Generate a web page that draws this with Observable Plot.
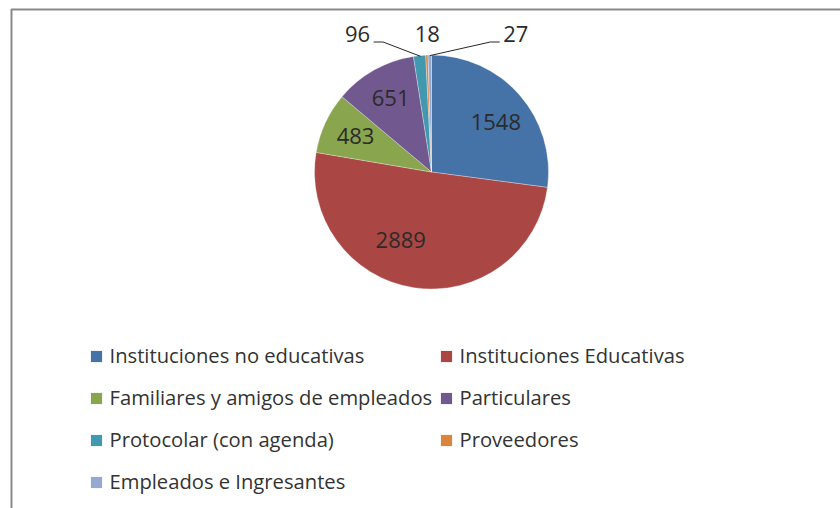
<!DOCTYPE html>
<html><head><meta charset="utf-8">
<script src="https://cdn.jsdelivr.net/npm/d3@7"></script>
<script src="https://cdn.jsdelivr.net/npm/@observablehq/plot@0.6"></script>
<style>body{margin:0;background:#fff;} svg{display:block;}</style>
</head><body><div id="chart"></div>
<script>
const categories = ["Instituciones no educativas","Instituciones Educativas","Familiares y amigos de empleados","Particulares","Protocolar (con agenda)","Proveedores","Empleados e Ingresantes"];
const values = [1548, 2889, 483, 651, 96, 18, 27];
const colors = ["#4572A7","#AA4643","#89A54E","#71588F","#4198AF","#DB843D","#93A9CF"];

const W = 840, H = 508;
const cx = 431.5, cy = 172, R = 117;
const total = d3.sum(values);
const data = categories.map((c, i) => ({category: c, value: values[i], color: colors[i], i}));
const arcs = d3.pie().sort(null).value(d => d.value)(data);
const pt = (a, r) => [cx + r * Math.sin(a), cy - r * Math.cos(a)];
const mid = a => (a.startAngle + a.endAngle) / 2;

// inside labels (best-fit style: larger slices pulled toward their bigger side)
const inside = arcs.filter(a => a.data.value / total >= 0.05).map(a => {
  const span = a.endAngle - a.startAngle;
  const shift = span > Math.PI ? 0.28 : (span > 1.5 ? 0.06 : 0);
  const rf = span > Math.PI ? 0.64 : (span > 1.5 ? 0.69 : 0.72);
  const [x, y] = pt(mid(a) + shift, R * rf);
  return {x, y, label: String(a.data.value)};
});
// outside labels for small slices, spread horizontally above the pie
const small = arcs.filter(a => a.data.value / total < 0.05);
const labelY = cy - R - 21;
const spread = [-50, 0, 73];
const anchors = ["end", "middle", "start"];
const outside = small.map((a, k) => {
  const [ax, ay] = pt(mid(a), R);
  return {x: ax + spread[k], y: labelY, label: String(a.data.value), anchor: anchors[k], ax, ay, k};
});
const leaders = [];
outside.forEach(o => {
  if (o.anchor === "middle") return;
  const dir = o.anchor === "end" ? 1 : -1;
  leaders.push({x: o.ax, y: o.ay, k: o.k});
  leaders.push({x: o.x + dir * 13, y: o.y + 7.5, k: o.k});
  leaders.push({x: o.x + dir * 4, y: o.y + 7.5, k: o.k});
});

// legend layout
const legend = data.map(d => ({
  category: d.category, color: d.color,
  sx: 96 + (d.i % 2) * 350, tx: 109 + (d.i % 2) * 350, y: 356 + Math.floor(d.i / 2) * 42
}));

const pieMark = (index, scales) => {
  const x0 = scales.x(cx), y0 = scales.y(cy);
  const rr = Math.abs(scales.x(cx + R) - x0);
  const g = d3.create("svg:g").attr("transform", `translate(${x0},${y0})`);
  const arcGen = d3.arc().innerRadius(0).outerRadius(rr);
  g.selectAll("path").data(arcs).join("path")
    .attr("d", arcGen).attr("fill", d => d.data.color)
    .attr("stroke", "#ffffff").attr("stroke-width", 0.5).attr("stroke-opacity", 0.6);
  return g.node();
};

const outText = anchor => Plot.text(outside.filter(o => o.anchor === anchor),
  {x: "x", y: "y", text: "label", textAnchor: anchor, fontSize: 22, fill: "#2b2b2b"});

const chart = Plot.plot({
  width: W, height: H, margin: 0,
  style: {fontFamily: "'Open Sans', sans-serif", background: "#fff"},
  x: {domain: [0, W], range: [0, W], axis: null},
  y: {domain: [0, H], range: [0, H], axis: null},
  marks: [
    Plot.ruleY([9], {x1: 11, x2: W, stroke: "#8a8a8a", strokeWidth: 2}),
    Plot.ruleX([11], {y1: 9, y2: H, stroke: "#8a8a8a", strokeWidth: 2}),
    pieMark,
    Plot.text(inside, {x: "x", y: "y", text: "label", fontSize: 22, fill: "#2b2b2b"}),
    Plot.line(leaders, {x: "x", y: "y", z: "k", stroke: "#262626", strokeWidth: 1}),
    outText("end"), outText("middle"), outText("start"),
    Plot.dot(legend, {x: "sx", y: "y", symbol: "square", r: 6.3, fill: "color", stroke: null}),
    Plot.text(legend, {x: "tx", y: "y", text: "category", textAnchor: "start", fontSize: 20.2, fill: "#333"})
  ]
});
document.getElementById("chart").append(chart);
</script>
</body></html>
